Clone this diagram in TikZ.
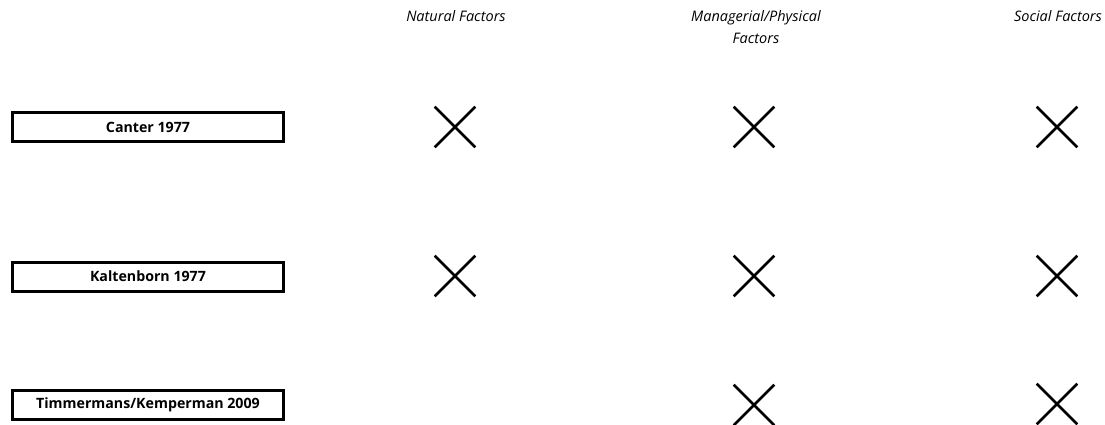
\documentclass[tikz,border=0pt]{standalone}
\usepackage{fontspec}
\setmainfont{Open Sans}
\usetikzlibrary{shapes.misc}
\tikzset{
  refbox/.style={draw, line width=3pt, minimum width=271pt, minimum height=29pt, inner sep=0pt, font=\fontsize{14.2}{16}\selectfont\bfseries},
  hdr/.style={font=\fontsize{14.5}{21.5}\selectfont\itshape, align=center, anchor=north},
  xmark/.style={cross out, draw, line width=2.6pt, minimum size=38pt, inner sep=0pt}
}
\begin{document}
\begin{tikzpicture}[x=1pt,y=-1pt]
\useasboundingbox (0,0) rectangle (1105,425);
\node[hdr] (h1) at (456,7) {Natural Factors};
\node[hdr] (h2) at (756,7) {Managerial/Physical\\Factors};
\node[hdr] (h3) at (1058,7) {Social Factors};
\node[refbox] (r1) at (148,127) {Canter 1977};
\node[refbox] (r2) at (148,276.5) {Kaltenborn 1977};
\node[refbox] (r3) at (148,405) {Timmermans/Kemperman 2009};
\node[xmark] (x11) at (455,127) {};
\node[xmark] (x12) at (754,127) {};
\node[xmark] (x13) at (1057,127) {};
\node[xmark] (x21) at (455,276) {};
\node[xmark] (x22) at (754,276) {};
\node[xmark] (x23) at (1057,276) {};
\node[xmark] (x32) at (754,405) {};
\node[xmark] (x33) at (1057,404) {};
\end{tikzpicture}
\end{document}
